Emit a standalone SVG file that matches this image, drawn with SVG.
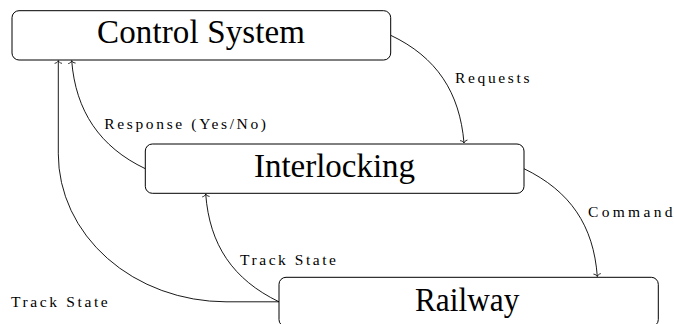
<svg xmlns="http://www.w3.org/2000/svg" width="674" height="324" viewBox="0 0 674 324">
  <style>
    .box { fill: #fff; stroke: #000; stroke-width: 1; }
    .title { font-family: "Liberation Serif", "Times New Roman", serif; font-size: 33px; fill: #000; }
    .edge { fill: none; stroke: #000; stroke-width: 0.9; marker-end: url(#tip); }
    .label { font-family: "Liberation Serif", "Times New Roman", serif; font-size: 15.5px; fill: #000; }
  </style>
  <defs>
    <!-- open curved arrow tip -->
    <marker id="tip" viewBox="-5 -5 10 10" refX="0" refY="0" markerWidth="10" markerHeight="10" markerUnits="userSpaceOnUse" orient="auto" overflow="visible">
      <path d="M-2.6,-3.3 C-2.2,-1.3 -0.9,-0.3 0,0 C-0.9,0.3 -2.2,1.3 -2.6,3.3" fill="none" stroke="#000" stroke-width="0.8" stroke-linecap="round"/>
    </marker>
  </defs>

  <rect width="674" height="324" fill="#fff"/>

  <!-- connectors -->
  <g id="connectors">
    <path id="requests" class="edge" d="M390.7,35.3 C436.6,57 459.8,92.4 464,143"/>
    <path id="command" class="edge" d="M524,168.7 C570.1,191 593.6,225.4 597.3,276.5"/>
    <path id="response" class="edge" d="M145.3,168.7 C99.8,147 75.6,111 71.7,60.7"/>
    <path id="track-to-interlocking" class="edge" d="M279,301.8 C233,279.6 209.5,245 205.7,194"/>
    <path id="track-to-control" class="edge" d="M279,301.8 H226 A168,148 0 0 1 58.3,153.8 V60.7"/>
    <text class="label" x="455" y="82.7" textLength="74.5" lengthAdjust="spacing">Requests</text>
    <text class="label" x="588" y="217.3" textLength="84.5" lengthAdjust="spacing">Command</text>
    <text class="label" x="104.3" y="129.3" textLength="161.7" lengthAdjust="spacing">Response (Yes/No)</text>
    <text class="label" x="240" y="265" textLength="96" lengthAdjust="spacing">Track State</text>
    <text class="label" x="11" y="307.3" textLength="96.7" lengthAdjust="spacing">Track State</text>
  </g>

  <!-- nodes -->
  <g id="control-system">
    <rect class="box" x="12" y="10.7" width="378.7" height="49.3" rx="7"/>
    <text class="title" x="97" y="43.3" textLength="208" lengthAdjust="spacing">Control System</text>
  </g>
  <g id="interlocking">
    <rect class="box" x="145.3" y="144" width="378.7" height="49.3" rx="7"/>
    <text class="title" x="254" y="176.7" textLength="161" lengthAdjust="spacing">Interlocking</text>
  </g>
  <g id="railway">
    <rect class="box" x="279" y="277.3" width="379.3" height="49.3" rx="7"/>
    <text class="title" x="415" y="310.7" textLength="104.3" lengthAdjust="spacingAndGlyphs">Railway</text>
  </g>
</svg>
